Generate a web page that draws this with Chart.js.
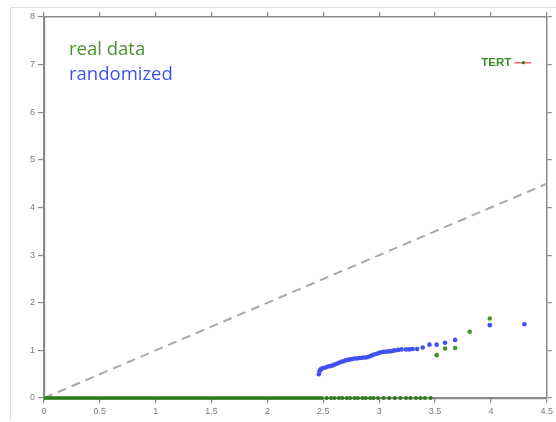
<!DOCTYPE html>
<html>
<head>
<meta charset="utf-8">
<script src="https://cdn.jsdelivr.net/npm/chart.js@4.4.1/dist/chart.umd.min.js"></script>
<style>
  html, body { margin: 0; padding: 0; background: #fff; }
  #wrap { width: 556px; height: 422px; }
</style>
</head>
<body>
<div id="wrap"><canvas id="qq" width="556" height="422"></canvas></div>
<script>
// Observed vs expected scores: real data (green) against a randomized run (blue).

const xTicks = [0, 0.5, 1, 1.5, 2, 2.5, 3, 3.5, 4, 4.5];
const yTicks = [0, 1, 2, 3, 4, 5, 6, 7, 8];

// randomized run
const randX = [2.46, 2.465, 2.47, 2.48, 2.49, 2.50, 2.52, 2.54, 2.56, 2.58,
  2.60, 2.62, 2.64, 2.66, 2.68, 2.70, 2.72, 2.74, 2.76, 2.78,
  2.80, 2.82, 2.84, 2.86, 2.88, 2.90, 2.92, 2.94, 2.96, 2.98,
  3.00, 3.02, 3.04, 3.06, 3.08, 3.10, 3.12, 3.14, 3.17, 3.20,
  3.24, 3.27, 3.30, 3.34, 3.39, 3.45, 3.515, 3.59, 3.68, 3.99, 4.30];
const randY = [0.50, 0.55, 0.58, 0.61, 0.62, 0.63, 0.64, 0.66, 0.67, 0.68,
  0.70, 0.72, 0.74, 0.76, 0.77, 0.79, 0.80, 0.81, 0.82, 0.83,
  0.83, 0.84, 0.84, 0.85, 0.85, 0.86, 0.88, 0.90, 0.92, 0.93,
  0.95, 0.96, 0.97, 0.97, 0.98, 0.98, 0.99, 1.00, 1.01, 1.02,
  1.02, 1.02, 1.03, 1.03, 1.06, 1.12, 1.12, 1.16, 1.22, 1.53, 1.55];

// real data: the long run of zero scores, then the sparser tail
const realZeroRun = [0, 2.5];
const realZeroX = [2.53, 2.57, 2.60, 2.64, 2.67, 2.71, 2.74, 2.78, 2.81, 2.85,
  2.88, 2.92, 2.95, 2.99, 3.04, 3.09, 3.14, 3.19, 3.24, 3.28,
  3.33, 3.37, 3.41, 3.46];
const realX = [3.515, 3.59, 3.68, 3.81, 3.99];
const realY = [0.90, 1.04, 1.05, 1.39, 1.67];

// highlighted gene with its horizontal error bar
const tertX = 4.29, tertY = 7.04, tertLow = 4.21, tertHigh = 4.36;

const diagonal = [0, 4.5];

const GREEN = "#4b9130";
const GREEN_DARK = "#2c7a1a";
const BLUE = "#4152f2";
const AXIS = "#8a8a8a";
const TICK_TEXT = "#7a7a7a";
const TICK_FONT = { size: 9, family: "'Liberation Sans', Arial, sans-serif" };

const pts = (xs, ys) => xs.map((x, i) => ({ x, y: ys[i] }));

const frame = {
  id: "frame",
  beforeDraw(chart) {
    const { ctx } = chart;
    ctx.save();
    ctx.strokeStyle = "#dcdcdc";
    ctx.lineWidth = 1;
    ctx.beginPath();
    ctx.moveTo(10.5, 420);
    ctx.lineTo(10.5, 7.5);
    ctx.lineTo(556, 7.5);
    ctx.stroke();
    ctx.restore();
  },
  afterDatasetsDraw(chart) {
    const { ctx, scales } = chart;
    ctx.save();
    // key text
    ctx.textAlign = "left";
    ctx.textBaseline = "alphabetic";
    ctx.font = "18.5px 'Open Sans', sans-serif";
    ctx.fillStyle = GREEN;
    ctx.fillText("real data", 69, 55);
    ctx.fillStyle = BLUE;
    ctx.fillText("randomized", 69, 80);
    // gene label
    ctx.font = "bold 11.5px 'Liberation Sans', Arial, sans-serif";
    ctx.fillStyle = "#3f8a22";
    ctx.textAlign = "right";
    ctx.textBaseline = "middle";
    ctx.fillText("TERT", scales.x.getPixelForValue(tertLow) - 3, scales.y.getPixelForValue(tertY));
    ctx.restore();
  },
};

const tickOnlyAxis = (position, min, max, step) => ({
  type: "linear",
  position,
  min,
  max,
  ticks: { stepSize: step, display: false },
  grid: { drawOnChartArea: false, drawTicks: true, tickLength: 5, color: AXIS, lineWidth: 1.2 },
  border: { color: AXIS, width: 1.5 },
});

new Chart(document.getElementById("qq"), {
  type: "scatter",
  data: {
    datasets: [
      {
        label: "y = x",
        type: "line",
        data: pts(diagonal, diagonal),
        borderColor: "#a9a9a9",
        borderWidth: 2,
        borderDash: [9, 6],
        pointRadius: 0,
        order: 5,
      },
      {
        label: "randomized",
        data: pts(randX, randY),
        backgroundColor: BLUE,
        borderWidth: 0,
        pointRadius: 2.3,
        order: 3,
      },
      {
        label: "real data zero run",
        type: "line",
        data: pts(realZeroRun, realZeroRun.map(() => 0)),
        borderColor: GREEN_DARK,
        borderWidth: 3.5,
        pointRadius: 0,
        clip: false,
        order: 2,
      },
      {
        label: "real data zero tail",
        data: pts(realZeroX, realZeroX.map(() => 0)),
        backgroundColor: GREEN_DARK,
        borderWidth: 0,
        pointRadius: 2,
        clip: false,
        order: 2,
      },
      {
        label: "real data",
        data: pts(realX, realY),
        backgroundColor: GREEN,
        borderWidth: 0,
        pointRadius: 2.3,
        order: 1,
      },
      {
        label: "TERT error",
        type: "line",
        data: pts([tertLow, tertHigh], [tertY, tertY]),
        borderColor: "#ec6a6a",
        borderWidth: 1.5,
        pointRadius: 0,
        order: 1,
      },
      {
        label: "TERT",
        data: [{ x: tertX, y: tertY }],
        backgroundColor: GREEN_DARK,
        borderWidth: 0,
        pointRadius: 1.6,
        order: 0,
      },
    ],
  },
  options: {
    responsive: false,
    animation: false,
    devicePixelRatio: 1,
    layout: { padding: 0 },
    plugins: { legend: { display: false }, tooltip: { enabled: false } },
    scales: {
      x: {
        type: "linear",
        position: "bottom",
        min: 0,
        max: 4.5,
        afterBuildTicks: (s) => { s.ticks = xTicks.map((v) => ({ value: v })); },
        ticks: { color: TICK_TEXT, font: TICK_FONT, padding: 3, maxRotation: 0, callback: (v) => String(v) },
        grid: { drawOnChartArea: false, drawTicks: true, tickLength: 5, color: AXIS, lineWidth: 1.2 },
        border: { color: AXIS, width: 2.2 },
        afterFit: (s) => { s.height = 24; },
      },
      x2: { ...tickOnlyAxis("top", 0, 4.5, 0.5), afterFit: (s) => { s.height = 17; } },
      y: {
        type: "linear",
        position: "left",
        min: 0,
        max: 8,
        afterBuildTicks: (s) => { s.ticks = yTicks.map((v) => ({ value: v })); },
        ticks: { color: TICK_TEXT, font: TICK_FONT, padding: 3 },
        grid: { drawOnChartArea: false, drawTicks: true, tickLength: 6, color: AXIS, lineWidth: 1.2 },
        border: { color: AXIS, width: 2.2 },
        afterFit: (s) => { s.width = 44; },
      },
      y2: { ...tickOnlyAxis("right", 0, 8, 1), afterFit: (s) => { s.width = 8; } },
    },
  },
  plugins: [frame],
});
</script>
</body>
</html>
